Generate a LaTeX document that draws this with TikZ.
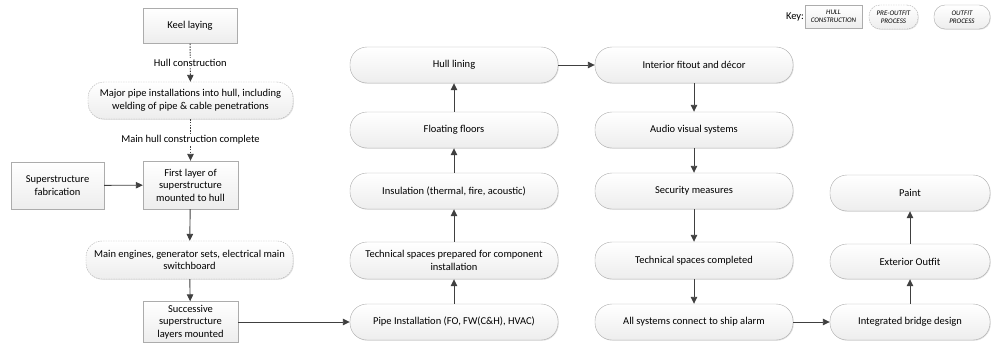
\documentclass[tikz,border=0pt]{standalone}
\usepackage{fontspec}
\setmainfont{Carlito}
\usepackage{tikz}
\usetikzlibrary{shapes,arrows.meta,positioning,shadows}

\tikzset{
  boxfill/.style={draw=gray!65, top color=white, bottom color=gray!14,
    drop shadow={opacity=0.22, shadow xshift=0.8pt, shadow yshift=-0.8pt},
    font=\fontsize{10.5}{12.5}\selectfont, align=center, inner sep=2pt},
  hullbox/.style={boxfill, rectangle},
  preoutfit/.style={boxfill, rectangle, rounded corners=16pt, dashed, dash pattern=on 1.5pt off 1pt},
  outfitbox/.style={boxfill, rectangle, rounded corners=17pt},
  flow/.style={-{Triangle[length=7pt,width=6.5pt]}, draw=black!75, line width=0.9pt},
  dflow/.style={flow, dash pattern=on 1.5pt off 1.2pt},
  steplabel/.style={fill=white, font=\fontsize{10.5}{12.5}\selectfont, inner sep=1.5pt},
  keytext/.style={font=\fontsize{7}{8}\selectfont\itshape, inner sep=1pt}
}

\begin{document}
\begin{tikzpicture}[x=1pt, y=-1pt]
    \useasboundingbox (0,0) rectangle (992,345);

    % hull construction column
    \node[hullbox, minimum width=94pt, minimum height=35pt] (keel) at (190,26) {Keel laying};
    \node[preoutfit, minimum width=205pt, minimum height=37pt] (majorpipe) at (190.5,100.5) {Major pipe installations into hull, including\\welding of pipe \& cable penetrations};
    \node[hullbox, minimum width=95pt, minimum height=48pt] (firstlayer) at (190.5,185) {First layer of\\superstructure\\mounted to hull};
    \node[hullbox, minimum width=93pt, minimum height=47pt] (superfab) at (57.5,185.5) {Superstructure\\fabrication};
    \node[preoutfit, minimum width=207pt, minimum height=38pt] (engines) at (189.5,260) {Main engines, generator sets, electrical main\\switchboard};
    \node[hullbox, minimum width=95pt, minimum height=41pt] (successive) at (190.5,322) {Successive\\superstructure\\layers mounted};

    % outfit, second column
    \node[outfitbox, minimum width=208pt, minimum height=36pt] (pipeinst) at (454,322) {Pipe Installation (FO, FW(C\&H), HVAC)};
    \node[outfitbox, minimum width=208pt, minimum height=37pt] (techprep) at (454,260.5) {Technical spaces prepared for component\\installation};
    \node[outfitbox, minimum width=208pt, minimum height=36pt] (insulation) at (454,191) {Insulation (thermal, fire, acoustic)};
    \node[outfitbox, minimum width=208pt, minimum height=36pt] (floors) at (454,130) {Floating floors};
    \node[outfitbox, minimum width=208pt, minimum height=36pt] (hulllining) at (454,65) {Hull lining};

    % outfit, third column
    \node[outfitbox, minimum width=198pt, minimum height=36pt] (interior) at (694,65) {Interior fitout and décor};
    \node[outfitbox, minimum width=198pt, minimum height=36pt] (audio) at (694,130) {Audio visual systems};
    \node[outfitbox, minimum width=198pt, minimum height=36pt] (security) at (694,191) {Security measures};
    \node[outfitbox, minimum width=198pt, minimum height=37pt] (techdone) at (694,260.5) {Technical spaces completed};
    \node[outfitbox, minimum width=198pt, minimum height=36pt] (alarm) at (694,322) {All systems connect to ship alarm};

    % outfit, fourth column
    \node[outfitbox, minimum width=160pt, minimum height=36pt] (bridge) at (910,322) {Integrated bridge design};
    \node[outfitbox, minimum width=160pt, minimum height=35pt] (exterior) at (910,261.5) {Exterior Outfit};
    \node[outfitbox, minimum width=160pt, minimum height=36pt] (paint) at (910,193) {Paint};

    % key
    \node[font=\fontsize{10.5}{12.5}\selectfont] (keylabel) at (795,17) {Key:};
    \node[hullbox, keytext, minimum width=57pt, minimum height=23pt] (keyhull) at (833.5,16.5) {HULL\\CONSTRUCTION};
    \node[preoutfit, keytext, rounded corners=11pt, minimum width=49pt, minimum height=24pt] (keypre) at (893.5,17) {PRE-OUTFIT\\PROCESS};
    \node[outfitbox, keytext, rounded corners=11pt, minimum width=56pt, minimum height=24pt] (keyoutfit) at (962,17) {OUTFIT\\PROCESS};

    % connectors
    \draw[dflow] (keel) -- node[steplabel] {Hull construction} (majorpipe);
    \draw[dflow] (majorpipe) -- node[steplabel] {Main hull construction complete} (firstlayer);
    \draw[flow] (superfab) -- (firstlayer);
    \draw[flow] (firstlayer) -- (engines);
    \draw[flow] (engines) -- (successive);
    \draw[flow] (successive) -- (pipeinst);
    \draw[flow] (pipeinst) -- (techprep);
    \draw[flow] (techprep) -- (insulation);
    \draw[flow] (insulation) -- (floors);
    \draw[flow] (floors) -- (hulllining);
    \draw[flow] (hulllining) -- (interior);
    \draw[flow] (interior) -- (audio);
    \draw[flow] (audio) -- (security);
    \draw[flow] (security) -- (techdone);
    \draw[flow] (techdone) -- (alarm);
    \draw[flow] (alarm) -- (bridge);
    \draw[flow] (bridge) -- (exterior);
    \draw[flow] (exterior) -- (paint);
\end{tikzpicture}
\end{document}
